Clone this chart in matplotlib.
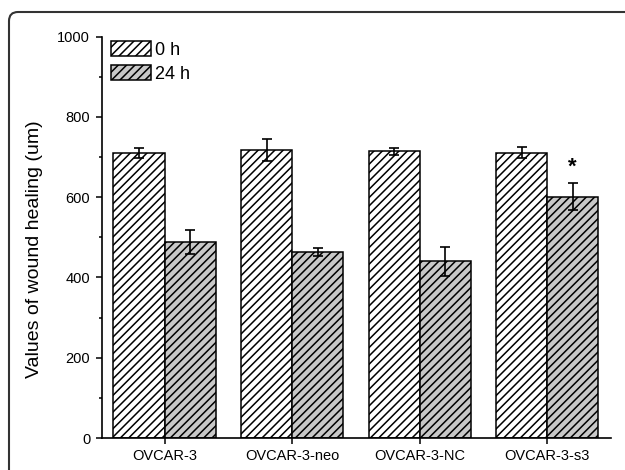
"""
Wound healing bar chart: 0 h vs 24 h for the four OVCAR-3 lines
"""
import matplotlib
matplotlib.use('Agg')
import matplotlib.pyplot as plt
from matplotlib.patches import FancyBboxPatch
from matplotlib.ticker import MultipleLocator
import numpy as np

plt.rcParams['font.family'] = ['Liberation Sans', 'DejaVu Sans']
plt.rcParams['hatch.linewidth'] = 1.1

# data
groups = ['OVCAR-3', 'OVCAR-3-neo', 'OVCAR-3-NC', 'OVCAR-3-s3']
h0 = [710, 717, 714, 711]
h0_err = [13, 27, 8, 14]
h24 = [489, 463, 440, 601]
h24_err = [30, 10, 37, 33]
star_group = 3
star_value = 675

fig = plt.figure(figsize=(6.25, 4.7), dpi=100)
ax = fig.add_axes([0.1632, 0.068, 0.8144, 0.8543])

x = np.arange(len(groups))
w = 0.4
ax.bar(x - w / 2, h0, w, color='white', edgecolor='black', linewidth=1.1,
       hatch='////', label='0 h')
ax.bar(x + w / 2, h24, w, color='#c8c8c8', edgecolor='black', linewidth=1.1,
       hatch='////', label='24 h')
ax.errorbar(x - w / 2, h0, yerr=h0_err, fmt='none', ecolor='black',
            elinewidth=1.2, capsize=3.5, capthick=1.2)
ax.errorbar(x + w / 2, h24, yerr=h24_err, fmt='none', ecolor='black',
            elinewidth=1.2, capsize=3.5, capthick=1.2)

ax.text(star_group + w / 2, star_value, '*', ha='center', va='center',
        fontsize=16, fontweight='bold')

ax.set_xlim(-0.49, 3.5)
ax.set_ylim(0, 1000)
ax.set_xticks(x)
ax.set_xticklabels(groups, fontsize=10.5)
ax.yaxis.set_major_locator(MultipleLocator(200))
ax.yaxis.set_minor_locator(MultipleLocator(100))
ax.tick_params(axis='y', which='major', length=4.5, width=1.1, labelsize=10.5, pad=4)
ax.tick_params(axis='y', which='minor', length=2.5, width=1.1)
ax.tick_params(axis='x', which='major', length=4, width=1.1, pad=4)

for s in ['top', 'right']:
    ax.spines[s].set_visible(False)
for s in ['left', 'bottom']:
    ax.spines[s].set_linewidth(1.2)

ax.set_ylabel('Values of wound healing (um)', fontsize=14)
ax.yaxis.set_label_coords(-0.116, 0.47)

ax.legend(loc='upper left', bbox_to_anchor=(0.018, 0.99), frameon=False,
          fontsize=13, handlelength=2.2, handleheight=0.95,
          handletextpad=0.25, labelspacing=0.35, borderaxespad=0,
          borderpad=0)

# rounded frame round the figure, running off the right and bottom edges
frame = FancyBboxPatch((0.09, -1.0), 10, 4.7 - 0.12 + 1.0,
                       boxstyle='round,pad=0,rounding_size=0.09',
                       transform=fig.dpi_scale_trans, fill=False,
                       edgecolor='#333333', linewidth=1.5)
fig.add_artist(frame)

fig.savefig('out.png', dpi=100)
